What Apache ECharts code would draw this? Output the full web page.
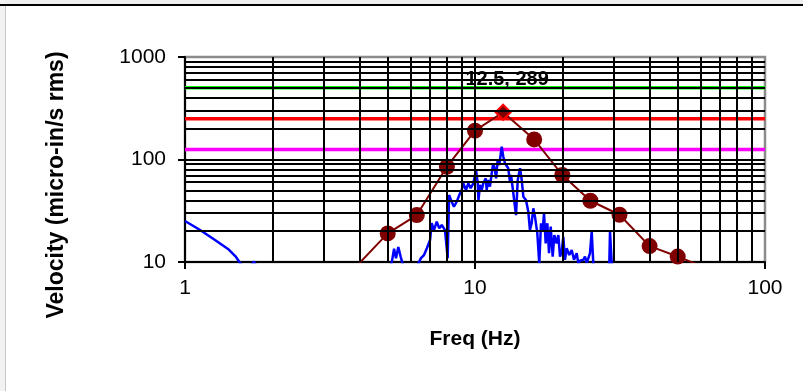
<!DOCTYPE html>
<html>
<head>
<meta charset="utf-8">
<script src="https://cdn.jsdelivr.net/npm/echarts@6/dist/echarts.min.js"></script>
<style>
  html, body { margin: 0; padding: 0; background: #ffffff; }
  #chart { width: 803px; height: 391px; }
</style>
</head>
<body>
<div id="chart"></div>
<script>
// One-third-octave band peak velocity (Hz, micro-in/s rms)
const bandFreq = [4, 5, 6.3, 8, 10, 12.5, 16, 20, 25, 31.5, 40, 50, 63];
const bandVel  = [9.8, 19, 28.7, 85, 191, 289, 157, 70.6, 39.6, 28.9, 14.3, 11.3, 8.7];

// Narrow-band velocity spectrum (Hz, micro-in/s rms)
const specFreq = [1.00, 1.127, 1.269, 1.407, 1.499, 1.572, 1.65, 1.73, 1.80, 2.2, 3, 4, 4.8,
  5.16, 5.26, 5.34, 5.44, 5.54, 5.63, 5.9, 6.2,
  6.36, 6.51, 6.67, 6.83, 7.0, 7.09, 7.22, 7.38, 7.53, 7.68, 7.88, 8.05, 8.14, 8.31, 8.46, 8.65,
  8.88, 9.00, 9.11, 9.31, 9.48, 9.66, 9.87, 10.08, 10.22, 10.28, 10.40, 10.55, 10.68, 10.89,
  10.97, 11.11, 11.26, 11.42, 11.56, 11.72, 11.82, 11.97, 12.13, 12.36, 12.52, 12.69, 12.86,
  13.02, 13.20, 13.31, 13.49, 13.66, 13.85, 14.04, 14.30, 14.49, 14.68, 14.99, 15.27, 15.47,
  15.68, 15.89, 16.10, 16.40, 16.66, 16.89, 17.12, 17.30, 17.53, 17.76, 18.00, 18.24, 18.53,
  18.77, 19.13, 19.38, 19.64, 19.91, 20.16, 20.43, 20.71, 21.14, 21.55, 21.95, 22.42, 22.71,
  23.0, 23.3, 23.63, 23.95, 24.3, 24.6, 24.92, 25.26, 25.58, 26.5, 28, 29.05, 29.21, 29.61,
  31, 40, 60, 100];
const specVel = [25.1, 20.5, 16.4, 13.4, 11.2, 9.2, 8.5, 10.1, 8, 6, 5, 5.5, 7,
  9.8, 13.5, 10.9, 14, 11.3, 9.6, 8, 8.5,
  9.5, 10.9, 11.7, 13.7, 16.4, 23.9, 20.5, 24.7, 21.3, 23.0, 20.5, 10.9, 45.1, 38.8, 34.6, 38.8,
  46.8, 50.4, 58.6, 50.4, 58.6, 52.4, 58.6, 79.0, 58.6, 40, 56.4, 50.4, 58.6, 65.5,
  50.4, 63.1, 54.3, 73.3, 91.8, 79.0, 65.5, 98.9, 88.4, 133.3, 106.5, 91.8, 95.2,
  82.1, 60.8, 70.6, 52.4, 54.3, 28.7, 63.1, 82.1, 63.1, 43.4, 40.3, 30.9, 20.5,
  23.9, 33.4, 27.7, 19.1, 9.7, 23.9, 20.5, 29.9, 15.2, 23.9, 12.2, 22.1, 11.3,
  18.3, 15.2, 18.3, 11.3, 12.6, 17.6, 10.5, 13.6, 11.7, 13.1, 10.5, 12.2, 9.7,
  10.3, 10.1, 10.5, 11.3, 9.8, 10.1, 12.2, 19.8, 9.7, 7, 7.5, 9.7, 19.8, 9.7,
  7, 6, 5, 4];

// Criterion levels (micro-in/s rms)
const limitLevels = [500, 250, 125];
const limitColors = ['#00ff00', '#ff0000', '#ff00ff'];

// Axis ranges
const xRange = [1, 100];
const yRange = [10, 1000];

// Log-decade gridlines: 2..9 times each decade, plus inner decade lines
function logGrid(lo, hi) {
  const out = [];
  for (let d = lo; d < hi; d *= 10) {
    for (let k = (d === lo ? 2 : 1); k <= 9; k++) out.push(d * k);
  }
  return out;
}
const xGrid = logGrid(xRange[0], xRange[1]);
const yGrid = logGrid(yRange[0], yRange[1]);

const peakIdx = bandVel.indexOf(Math.max.apply(null, bandVel));
const labelFont = 'Liberation Sans, Arial, sans-serif';

const chart = echarts.init(document.getElementById('chart'), null, { renderer: 'canvas' });

const bandData = bandFreq.map((f, i) => {
  if (i !== peakIdx) return [f, bandVel[i]];
  return {
    value: [f, bandVel[i]],
    symbol: 'diamond',
    symbolSize: 15,
    itemStyle: { color: '#800000', borderColor: '#ff0000', borderWidth: 2 },
    label: {
      show: true,
      position: 'top',
      distance: 14,
      offset: [4, 0],
      formatter: () => f + ', ' + bandVel[i],
      fontFamily: labelFont,
      fontWeight: 'bold',
      fontSize: 20,
      color: '#000'
    }
  };
});

const gridLineStyle = { color: '#000', width: 2, type: 'solid', opacity: 1 };

const series = [
  {
    name: 'grid',
    type: 'line',
    data: [],
    silent: true,
    z: 1,
    markLine: {
      silent: true,
      symbol: ['none', 'none'],
      label: { show: false },
      emphasis: { disabled: true },
      animation: false,
      lineStyle: gridLineStyle,
      data: xGrid.map(v => ({ xAxis: v, lineStyle: gridLineStyle }))
        .concat(yGrid.map(v => ({ yAxis: v, lineStyle: gridLineStyle })))
    }
  }
];

limitLevels.forEach((lvl, i) => {
  series.push({
    name: 'limit' + lvl,
    type: 'line',
    z: 2,
    data: [[xRange[0], lvl], [xRange[1], lvl]],
    showSymbol: false,
    lineStyle: { color: limitColors[i], width: 3.5 },
    silent: true
  });
});

series.push({
  name: 'spectrum',
  type: 'line',
  z: 3,
  clip: true,
  data: specFreq.map((f, i) => [f, specVel[i]]),
  showSymbol: false,
  lineStyle: { color: '#0000ff', width: 2.5 },
  silent: true
});

series.push({
  name: 'bands',
  type: 'line',
  z: 4,
  clip: true,
  data: bandData,
  symbol: 'circle',
  symbolSize: 16,
  itemStyle: { color: '#800000', borderWidth: 0 },
  lineStyle: { color: '#800000', width: 2 },
  silent: true
});

chart.setOption({
  animation: false,
  backgroundColor: '#ffffff',
  grid: {
    left: 185, top: 57, width: 580, height: 205,
    show: true, borderColor: '#8c8c8c', borderWidth: 2.5, backgroundColor: 'transparent'
  },
  xAxis: {
    type: 'log', logBase: 10, min: xRange[0], max: xRange[1],
    name: 'Freq (Hz)', nameLocation: 'middle', nameGap: 67,
    nameTextStyle: { fontFamily: labelFont, fontWeight: 'bold', fontSize: 21, color: '#000' },
    axisLine: { show: true, lineStyle: { color: '#000', width: 2 } },
    axisTick: { show: true, inside: false, length: 7, lineStyle: { color: '#000', width: 2 } },
    axisLabel: { fontFamily: labelFont, fontSize: 21, color: '#000', margin: 16, formatter: v => String(v) },
    splitLine: { show: false },
    minorTick: { show: false }
  },
  yAxis: {
    type: 'log', logBase: 10, min: yRange[0], max: yRange[1],
    axisLine: { show: true, lineStyle: { color: '#000', width: 2 } },
    axisTick: { show: true, inside: false, length: 7, lineStyle: { color: '#000', width: 2 } },
    axisLabel: { fontFamily: labelFont, fontSize: 21, color: '#000', margin: 19, formatter: v => String(v) },
    splitLine: { show: false },
    minorTick: { show: false }
  },
  graphic: [
    { type: 'rect', silent: true, z: -10, shape: { x: 0, y: 0, width: 803, height: 4 }, style: { fill: '#efefef' } },
    { type: 'rect', silent: true, z: -10, shape: { x: 0, y: 0, width: 5, height: 391 }, style: { fill: '#f2f2f2' } },
    { type: 'line', silent: true, shape: { x1: 5.5, y1: 5, x2: 5.5, y2: 391 }, style: { stroke: '#c6c6c6', lineWidth: 1 } },
    { type: 'line', silent: true, shape: { x1: 0, y1: 5, x2: 803, y2: 5 }, style: { stroke: '#000', lineWidth: 2 } },
    {
      type: 'text', silent: true, x: 57, y: 185, rotation: Math.PI / 2,
      style: {
        text: 'Velocity (micro-in/s rms)', fill: '#000',
        font: 'bold 23px ' + labelFont, textAlign: 'center', textVerticalAlign: 'middle'
      }
    }
  ],
  series: series
});
</script>
</body>
</html>
